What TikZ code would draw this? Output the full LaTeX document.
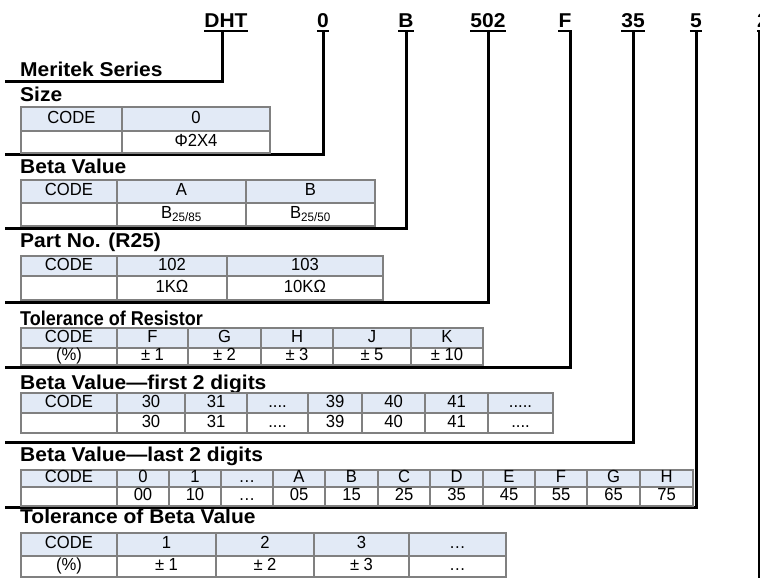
\documentclass[tikz,border=0pt]{standalone}
\usepackage{fontspec}
\setmainfont{Liberation Sans}
\newfontfamily\widefam[FakeStretch=1.05]{Liberation Sans}
\newfontfamily\narrowfam[FakeStretch=0.9]{Liberation Sans}
\newfontfamily\cellfam[FakeStretch=0.95]{Liberation Sans}
\usetikzlibrary{positioning}
\definecolor{hdrblue}{RGB}{226,234,246}
\definecolor{gridgray}{RGB}{128,128,128}
\newcommand{\titlefont}{\widefam\fontsize{20}{22}\selectfont\bfseries}
\newcommand{\cellfont}{\cellfam\fontsize{17.5}{19}\selectfont}
\newcommand{\mtable}[5]{%
  \foreach \xa/\xb/\hd/\bd [count=\i] in {#5} {
    \node[hdrcell, minimum width={\xb-\xa}, minimum height={#3-#2}]
      (#1-h\i) at ({(\xa+\xb)/2},{(#2+#3)/2}) {\hd};
    \node[bodycell, minimum width={\xb-\xa}, minimum height={#4-#3}]
      (#1-b\i) at ({(\xa+\xb)/2},{(#3+#4)/2}) {\bd};
  }}

\begin{document}
\begin{tikzpicture}[x=1pt,y=-1pt,
  bodycell/.style={draw=gridgray,line width=2pt,inner sep=0pt,outer sep=0pt,
    text height=0.8em,text depth=0pt,font=\cellfont},
  hdrcell/.style={bodycell,fill=hdrblue},
  title/.style={anchor=base west,inner sep=0pt,font=\titlefont},
  codelbl/.style={anchor=base,inner xsep=0pt,inner ysep=1pt,font=\titlefont},
  link/.style={line width=3pt},
  uline/.style={line width=2.5pt}]
  \useasboundingbox (0,0) rectangle (760,578);

  \foreach \n/\t/\lx/\cx/\cy in {dht/DHT/226/222/81, sz/0/323/323/154, bv/B/406/406/228,
      pn/502/488/488/302, tr/F/565/570/367, bf/35/633/633/442, bl/5/696/696/507} {
    \node[codelbl] (l-\n) at (\lx,28) {\t};
    \coordinate (u-\n) at ([yshift=-3pt]l-\n.base);
    \coordinate (c-\n) at (\cx,\cy);
    \coordinate (e-\n) at (5,\cy);
    \draw[uline] ([yshift=-3pt]l-\n.base west) -- ([yshift=-3pt]l-\n.base east);
    \draw[link] (u-\n -| c-\n) -- (c-\n) -- (e-\n);
  }
  \node[codelbl] (l-tb) at (763,28) {2};
  \coordinate (u-tb) at ([yshift=-3pt]l-tb.base);
  \coordinate (c-tb) at (759,580);
  \draw[uline] ([yshift=-3pt]l-tb.base west) -- ([yshift=-3pt]l-tb.base east);
  \draw[link] (u-tb -| c-tb) -- (c-tb);

  \node[title] (t-ms) at (20,77) {Meritek Series};
  \node[title] (t-sz) at (20,101) {Size};
  \mtable{sz}{107}{131}{153}{21/122/CODE/, 122/270/0/Φ2X4}

  \node[title] (t-bv) at (20,173) {Beta Value};
  \mtable{bv}{180}{203}{226}{21/117/CODE/, 117/246/A/{B\textsubscript{25/85}},
    246/375/B/{B\textsubscript{25/50}}}

  \node[title] (t-pn) at (20,247) {Part No. (R25)};
  \mtable{pn}{256}{276}{300}{21/117/CODE/, 117/227/102/1KΩ, 227/383/103/10KΩ}

  \node[title,font=\narrowfam\fontsize{20}{22}\selectfont\bfseries] (t-tr) at (20,325)
    {Tolerance of Resistor};
  \mtable{tr}{328}{348}{365}{21/117/CODE/(\%), 117/188/F/± 1, 188/261/G/± 2,
    261/333/H/± 3, 333/411/J/± 5, 411/483/K/± 10}

  \node[title] (t-bf) at (20,389) {Beta Value—first 2 digits};
  \mtable{bf}{393}{413}{433}{21/117/CODE/, 117/185/30/30, 185/247/31/31,
    247/308/{....}/{....}, 308/362/39/39, 362/425/40/40, 425/488/41/41,
    488/553/{.....}/{....}}

  \node[title] (t-bl) at (20,461) {Beta Value—last 2 digits};
  \mtable{bl}{470}{487}{506}{21/117/CODE/, 117/169/0/00, 169/221/1/10,
    221/273/…/…, 273/325/A/05, 325/378/B/15, 378/430/C/25, 430/483/D/35,
    483/535/E/45, 535/587/F/55, 587/640/G/65, 640/693/H/75}

  \node[title] (t-tb) at (20,523) {Tolerance of Beta Value};
  \mtable{tb}{533}{556}{577}{21/117/CODE/(\%), 117/216/1/± 1, 216/314/2/± 2,
    314/409/3/± 3, 409/506/…/…}
\end{tikzpicture}
\end{document}
